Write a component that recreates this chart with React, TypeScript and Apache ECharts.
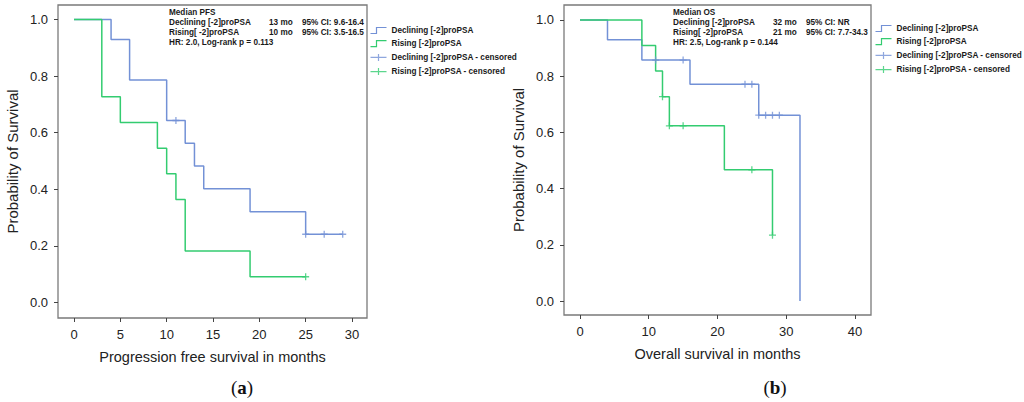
import React, { useEffect, useRef } from "react";
import * as echarts from "echarts";

// ---- Data ----
const pfsDeclTimes = [0, 4, 6, 10, 12, 13, 14, 19, 25, 29];
const pfsDeclSurv = [1, 0.929, 0.786, 0.643, 0.563, 0.482, 0.402, 0.321, 0.241, 0.241];
const pfsDeclCensT = [11, 25, 27, 29];
const pfsDeclCensS = [0.643, 0.241, 0.241, 0.241];

const pfsRiseTimes = [0, 3, 5, 9, 10, 11, 12, 19, 25];
const pfsRiseSurv = [1, 0.727, 0.636, 0.545, 0.455, 0.364, 0.182, 0.091, 0.091];
const pfsRiseCensT = [25];
const pfsRiseCensS = [0.091];

const osDeclTimes = [0, 4, 9, 16, 26, 32];
const osDeclSurv = [1, 0.929, 0.857, 0.771, 0.661, 0];
const osDeclCensT = [11, 15, 24, 25, 26, 27, 28, 29];
const osDeclCensS = [0.857, 0.857, 0.771, 0.771, 0.661, 0.661, 0.661, 0.661];

const osRiseTimes = [0, 9, 11, 12, 13, 21, 28];
const osRiseSurv = [1, 0.909, 0.818, 0.727, 0.623, 0.467, 0.234];
const osRiseCensT = [12, 13, 15, 25, 28];
const osRiseCensS = [0.727, 0.623, 0.623, 0.467, 0.234];

const yTicks = [0, 0.2, 0.4, 0.6, 0.8, 1.0];
const pfsXTicks = [0, 5, 10, 15, 20, 25, 30];
const osXTicks = [0, 10, 20, 30, 40];

const seriesNames = [
  "Declining [-2]proPSA",
  "Rising [-2]proPSA",
  "Declining [-2]proPSA - censored",
  "Rising [-2]proPSA - censored",
];

const pfsNotes = [
  ["Median PFS", "", ""],
  ["Declining [-2]proPSA", "13 mo", "95% CI: 9.6-16.4"],
  ["Rising[ -2]proPSA", "10 mo", "95% CI: 3.5-16.5"],
  ["HR: 2.0, Log-rank p = 0.113", "", ""],
];
const osNotes = [
  ["Median OS", "", ""],
  ["Declining [-2]proPSA", "32 mo", "95% CI: NR"],
  ["Rising[ -2]proPSA", "21 mo", "95% CI: 7.7-34.3"],
  ["HR: 2.5, Log-rank p = 0.144", "", ""],
];

const BLUE = "#7391d6";
const GREEN = "#33cc70";
const FONT = "Liberation Sans";
const SMALL = 8.2;

const zip = (a: number[], b: number[]) => a.map((v, i) => [v, b[i]]);

const PLUS = "path://M0,4 L8,4 M4,0 L4,8";
const STEP_ICON = "path://M0,7 L6,7 L6,1 L16,1";
const CENS_ICON = "path://M0,4 L16,4 M8,0.5 L8,7.5";

function App() {
  const ref = useRef<HTMLDivElement>(null);

  useEffect(() => {
    if (!ref.current) return;
    const chart = echarts.init(ref.current, undefined, { renderer: "svg" });

    const mkX = (idx: number, min: number, max: number, ticks: number[], name: string) => ({
      type: "value",
      gridIndex: idx,
      min,
      max,
      name,
      nameLocation: "middle",
      nameGap: 31,
      nameTextStyle: { fontFamily: FONT, fontSize: 14.5, color: "#222" },
      axisLine: { show: false, onZero: false },
      axisTick: {
        show: true,
        customValues: ticks,
        length: 4,
        lineStyle: { color: "#444" },
      },
      axisLabel: {
        customValues: ticks,
        fontFamily: FONT,
        fontSize: 13,
        color: "#222",
        margin: 10,
      },
      splitLine: { show: false },
    });

    const mkY = (idx: number, min: number, max: number) => ({
      type: "value",
      gridIndex: idx,
      min,
      max,
      name: "Probability of Survival",
      nameLocation: "middle",
      nameGap: 38,
      nameTextStyle: { fontFamily: FONT, fontSize: 15, color: "#222" },
      axisLine: { show: false, onZero: false },
      axisTick: {
        show: true,
        customValues: yTicks,
        length: 4,
        lineStyle: { color: "#444" },
      },
      axisLabel: {
        customValues: yTicks,
        formatter: (v: number) => v.toFixed(1),
        fontFamily: FONT,
        fontSize: 13,
        color: "#222",
        margin: 10,
      },
      splitLine: { show: false },
    });

    const lineS = (name: string, idx: number, t: number[], s: number[], color: string, z: number) => ({
      name,
      type: "line",
      xAxisIndex: idx,
      yAxisIndex: idx,
      step: "end",
      showSymbol: false,
      symbol: "none",
      data: zip(t, s),
      itemStyle: { color },
      lineStyle: { color, width: 1.5 },
      z,
      silent: true,
    });

    const censS = (name: string, idx: number, t: number[], s: number[], color: string, z: number) => ({
      name,
      type: "scatter",
      xAxisIndex: idx,
      yAxisIndex: idx,
      symbol: PLUS,
      symbolSize: 7,
      data: zip(t, s),
      itemStyle: { color: "none", borderColor: color, borderWidth: 1.3 },
      z,
      silent: true,
    });

    const legendData = [
      { name: seriesNames[0], icon: STEP_ICON, itemStyle: { color: "none", borderColor: BLUE, borderWidth: 1.2 } },
      { name: seriesNames[1], icon: STEP_ICON, itemStyle: { color: "none", borderColor: GREEN, borderWidth: 1.2 } },
      { name: seriesNames[2], icon: CENS_ICON, itemStyle: { color: "none", borderColor: BLUE, borderWidth: 1.2 } },
      { name: seriesNames[3], icon: CENS_ICON, itemStyle: { color: "none", borderColor: GREEN, borderWidth: 1.2 } },
    ];

    const mkLegend = (left: number, top: number) => ({
      orient: "vertical",
      left,
      top,
      padding: 0,
      itemWidth: 16,
      itemHeight: 8,
      itemGap: 2.2,
      selectedMode: false,
      data: legendData,
      textStyle: { fontFamily: FONT, fontSize: SMALL, fontWeight: "bold", color: "#1a1a1a", padding: [0, 0, 0, 0] },
    });

    const noteTexts = (notes: string[][], x0: number, x1: number, x2: number, ys: number[]) => {
      const out: any[] = [];
      notes.forEach((row, r) => {
        [x0, x1, x2].forEach((x, c) => {
          if (!row[c]) return;
          out.push({
            type: "text",
            x,
            y: ys[r],
            silent: true,
            style: {
              text: row[c],
              fontFamily: FONT,
              fontSize: SMALL,
              fontWeight: "bold",
              fill: "#1a1a1a",
              verticalAlign: "middle",
              align: "left",
            },
          });
        });
      });
      return out;
    };

    const option = {
      animation: false,
      grid: [
        { left: 58, top: 5, width: 309, height: 313, show: true, borderColor: "#7a7a7a", borderWidth: 1.3, backgroundColor: "transparent" },
        { left: 564, top: 5, width: 307, height: 310, show: true, borderColor: "#7a7a7a", borderWidth: 1.3, backgroundColor: "transparent" },
      ],
      xAxis: [
        mkX(0, -1.727, 31.62, pfsXTicks, "Progression free survival in months"),
        mkX(1, -2.327, 42.33, osXTicks, "Overall survival in months"),
      ],
      yAxis: [mkY(0, -0.0548, 1.051), mkY(1, -0.0498, 1.053)],
      legend: [mkLegend(368, 25), mkLegend(873, 23)],
      series: [
        lineS(seriesNames[0], 0, pfsDeclTimes, pfsDeclSurv, BLUE, 2),
        lineS(seriesNames[1], 0, pfsRiseTimes, pfsRiseSurv, GREEN, 3),
        censS(seriesNames[2], 0, pfsDeclCensT, pfsDeclCensS, BLUE, 4),
        censS(seriesNames[3], 0, pfsRiseCensT, pfsRiseCensS, GREEN, 5),
        lineS(seriesNames[0], 1, osDeclTimes, osDeclSurv, BLUE, 2),
        lineS(seriesNames[1], 1, osRiseTimes, osRiseSurv, GREEN, 3),
        censS(seriesNames[2], 1, osDeclCensT, osDeclCensS, BLUE, 4),
        censS(seriesNames[3], 1, osRiseCensT, osRiseCensS, GREEN, 5),
      ],
      graphic: [
        ...noteTexts(pfsNotes, 169, 269, 302, [12.3, 22.5, 32.3, 42.3]),
        ...noteTexts(osNotes, 673, 773, 806, [12.3, 22.2, 32.3, 42.1]),
        {
          type: "text",
          x: 242,
          y: 387,
          silent: true,
          style: {
            text: "({b|a})",
            fontFamily: "Liberation Serif",
            fontSize: 19,
            fill: "#111",
            align: "center",
            verticalAlign: "middle",
            rich: { b: { fontWeight: "bold", fontFamily: "Liberation Serif", fontSize: 19 } },
          },
        },
        {
          type: "text",
          x: 775,
          y: 387,
          silent: true,
          style: {
            text: "({b|b})",
            fontFamily: "Liberation Serif",
            fontSize: 19,
            fill: "#111",
            align: "center",
            verticalAlign: "middle",
            rich: { b: { fontWeight: "bold", fontFamily: "Liberation Serif", fontSize: 19 } },
          },
        },
      ],
    };

    chart.setOption(option as any);
    return () => chart.dispose();
  }, []);

  return (
    <div
      ref={ref}
      style={{ position: "fixed", left: 0, top: 0, width: 1024, height: 402, background: "#fff" }}
    />
  );
}

export default App;
